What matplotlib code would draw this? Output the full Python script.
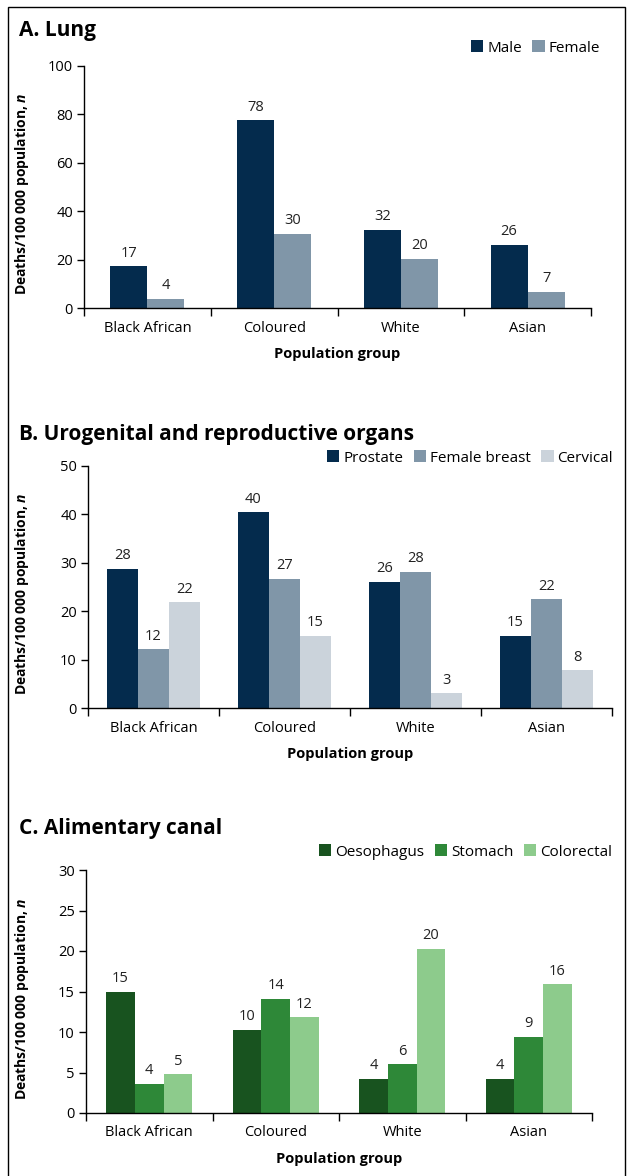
import matplotlib
matplotlib.use('Agg')
import matplotlib.pyplot as plt
from matplotlib.patches import Patch, Rectangle

plt.rcParams['font.family'] = ['Open Sans', 'DejaVu Sans']
plt.rcParams['mathtext.fontset'] = 'custom'
plt.rcParams['mathtext.it'] = 'Open Sans:italic:bold'

# 数据：各人群组别
groups = ['Black African', 'Coloured', 'White', 'Asian']

# A. 肺癌
lung_male = [17.3, 77.5, 32.3, 26.2]
lung_female = [3.8, 30.7, 20.3, 6.7]
lung_male_lbl = [17, 78, 32, 26]
lung_female_lbl = [4, 30, 20, 7]

# B. 泌尿生殖与生殖器官
prostate = [28.7, 40.4, 26.1, 14.9]
breast = [12.1, 26.7, 28.1, 22.4]
cervical = [21.8, 14.9, 3.0, 7.8]
prostate_lbl = [28, 40, 26, 15]
breast_lbl = [12, 27, 28, 22]
cervical_lbl = [22, 15, 3, 8]

# C. 消化道
oesophagus = [15.0, 10.3, 4.2, 4.2]
stomach = [3.6, 14.1, 6.0, 9.4]
colorectal = [4.8, 11.8, 20.3, 15.9]
oesophagus_lbl = [15, 10, 4, 4]
stomach_lbl = [4, 14, 6, 9]
colorectal_lbl = [5, 12, 20, 16]

W, H = 630, 1176
NAVY, SLATE, PALE = '#042b4d', '#8096a8', '#cbd3db'
G1, G2, G3 = '#18531f', '#2e8838', '#8dcb8c'


def _rect(left, right, top, bottom):
    """像素坐标 -> figure 坐标。"""
    return [left / W, 1 - bottom / H, (right - left) / W, (bottom - top) / H]


def draw_panel(fig, box, series, labels, names, colors, width, ymax, ystep,
               title, title_y, legend_xy):
    ax = fig.add_axes(_rect(*box))
    n = len(series)
    for k, (vals, lbls, col, name) in enumerate(zip(series, labels, colors, names)):
        xs = [i + (k - (n - 1) / 2) * width for i in range(len(groups))]
        ax.bar(xs, vals, width=width, color=col, label=name, linewidth=0)
        for x, v, t in zip(xs, vals, lbls):
            ax.annotate(str(t), (x, v), xytext=(0, 4), textcoords='offset points',
                        ha='center', va='bottom', fontsize=10.5, color='#222222')

    ax.set_xlim(-0.5, len(groups) - 0.5)
    ax.set_ylim(0, ymax)
    ax.set_yticks(range(0, ymax + 1, ystep))
    ax.set_xticks([i - 0.5 for i in range(len(groups) + 1)])
    ax.set_xticklabels([])
    ax.set_xticks(range(len(groups)), minor=True)
    ax.set_xticklabels(groups, minor=True)
    ax.tick_params(axis='x', which='major', length=6, width=1, direction='out')
    ax.tick_params(axis='x', which='minor', length=0, pad=9, labelsize=10.5)
    ax.tick_params(axis='y', length=5, width=1, labelsize=10.5, pad=3)
    for s in ['top', 'right']:
        ax.spines[s].set_visible(False)
    for s in ['left', 'bottom']:
        ax.spines[s].set_linewidth(1)

    ax.set_xlabel('Population group', fontweight='bold', fontsize=10.5, labelpad=8)
    ax.set_ylabel('Deaths/100 000 population, $n$', fontweight='bold', fontsize=10)
    left, right = box[0], box[1]
    ax.yaxis.set_label_coords((31 - left) / (right - left), 0.47)

    fig.text(19 / W, 1 - title_y / H, title, fontsize=15, fontweight='bold',
             va='baseline', ha='left')
    handles = [Patch(facecolor=c, edgecolor='none') for c in colors]
    fig.legend(handles, names, loc='center right',
               bbox_to_anchor=(legend_xy[0] / W, 1 - legend_xy[1] / H),
               ncol=n, frameon=False, fontsize=11, handlelength=0.8,
               handleheight=0.8, handletextpad=0.25, columnspacing=0.7,
               borderpad=0, borderaxespad=0)
    return ax


fig = plt.figure(figsize=(W / 100, H / 100), dpi=100)

draw_panel(fig, (84, 591, 65.7, 308), [lung_male, lung_female],
           [lung_male_lbl, lung_female_lbl], ['Male', 'Female'],
           [NAVY, SLATE], 0.292, 100, 20, 'A. Lung', 36, (600, 48))

draw_panel(fig, (88, 612, 465.7, 708), [prostate, breast, cervical],
           [prostate_lbl, breast_lbl, cervical_lbl],
           ['Prostate', 'Female breast', 'Cervical'],
           [NAVY, SLATE, PALE], 0.237, 50, 10,
           'B. Urogenital and reproductive organs', 440, (613, 458))

draw_panel(fig, (86, 592, 870, 1113), [oesophagus, stomach, colorectal],
           [oesophagus_lbl, stomach_lbl, colorectal_lbl],
           ['Oesophagus', 'Stomach', 'Colorectal'],
           [G1, G2, G3], 0.227, 30, 5,
           'C. Alimentary canal', 834, (612, 852))

# 外框
fig.add_artist(Rectangle((8 / W, -0.01), (625 - 8) / W, 1.01 - 7 / H,
                         transform=fig.transFigure, fill=False,
                         edgecolor='black', linewidth=1))

fig.savefig('out.png', dpi=100)
plt.close(fig)
